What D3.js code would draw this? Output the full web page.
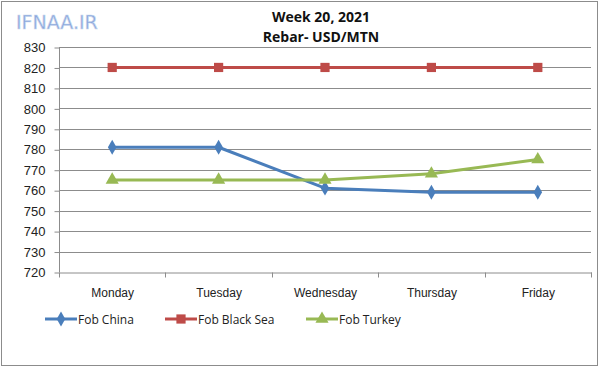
<!DOCTYPE html>
<html>
<head>
<meta charset="utf-8">
<script src="https://cdn.jsdelivr.net/npm/d3@7"></script>
<style>
  body { margin: 0; background: #fff; }
  svg { display: block; font-family: "Open Sans", "Noto Sans", sans-serif; }
</style>
</head>
<body>
<svg id="chart" width="600" height="368"></svg>
<script>
const days = ["Monday", "Tuesday", "Wednesday", "Thursday", "Friday"]
const fobChina = [781, 781, 761, 759, 759]
const fobBlackSea = [820, 820, 820, 820, 820]
const fobTurkey = [765, 765, 765, 768, 775]
const yTicks = [720, 730, 740, 750, 760, 770, 780, 790, 800, 810, 820, 830]

const series = [
  { name: "Fob China", values: fobChina, color: "#4a7ebb", marker: d3.symbolDiamond, size: 64 },
  { name: "Fob Black Sea", values: fobBlackSea, color: "#be4b48", marker: d3.symbolSquare, size: 85 },
  { name: "Fob Turkey", values: fobTurkey, color: "#98b954", marker: d3.symbolTriangle, size: 75 }
]

const svg = d3.select("#chart")
const plotLeft = 59, plotRight = 591, plotTop = 47, plotBottom = 272

// outer frame
svg.append("rect")
  .attr("x", 1.5).attr("y", 1.5).attr("width", 596).attr("height", 364)
  .attr("fill", "#fff").attr("stroke", "#8c8c8c")

// watermark
svg.append("text")
  .attr("x", 16).attr("y", 29)
  .attr("font-family", "Verdana, 'DejaVu Sans', sans-serif")
  .attr("font-size", 19)
  .attr("fill", "#8aa6dc")
  .attr("stroke", "#c9d8ee").attr("stroke-width", 0.6)
  .text("IFNAA.IR")

// title
const title = svg.append("g").attr("font-weight", "bold").attr("font-size", 14).attr("text-anchor", "middle").attr("fill", "#111")
title.append("text").attr("x", 321).attr("y", 22).text("Week 20, 2021")
title.append("text").attr("x", 321).attr("y", 42).text("Rebar- USD/MTN")

const x = d3.scaleBand().domain(days).range([plotLeft, plotRight])
const y = d3.scaleLinear().domain([720, 830]).range([plotBottom, plotTop])

// gridlines
svg.append("g")
  .selectAll("line")
  .data(yTicks.filter(d => d > 720))
  .enter()
  .append("line")
  .attr("x1", plotLeft).attr("x2", plotRight)
  .attr("y1", d => Math.round(y(d)) + 0.5).attr("y2", d => Math.round(y(d)) + 0.5)
  .attr("stroke", "#8c8c8c")

// y axis
const yAxis = svg.append("g")
  .attr("transform", `translate(${plotLeft + 0.5},0.5)`)
  .call(d3.axisLeft(y).tickValues(yTicks).tickSize(5).tickPadding(9))
yAxis.select(".domain").attr("stroke", "#8c8c8c").attr("d", `M0,${Math.round(y(830))}V${Math.round(y(720))}`)
yAxis.selectAll(".tick line").attr("stroke", "#8c8c8c")
yAxis.selectAll(".tick text").attr("font-size", 13).attr("fill", "#222")

// x axis
const xAxis = svg.append("g")
  .attr("transform", `translate(0.5,${Math.round(y(720)) + 0.5})`)
  .call(d3.axisBottom(x).tickSize(0).tickPadding(16))
xAxis.select(".domain").attr("stroke", "#8c8c8c")
xAxis.selectAll(".tick text").attr("font-size", 12).attr("fill", "#222")
xAxis.append("g")
  .selectAll("line")
  .data(d3.range(days.length + 1))
  .enter()
  .append("line")
  .attr("x1", i => Math.round(plotLeft + i * x.step()))
  .attr("x2", i => Math.round(plotLeft + i * x.step()))
  .attr("y1", 0).attr("y2", 5)
  .attr("stroke", "#8c8c8c")

// lines and markers
const cx = i => x(days[i]) + x.bandwidth() / 2
const line = d3.line().x((d, i) => cx(i)).y(d => y(d))

series.forEach(s => {
  svg.append("path")
    .datum(s.values)
    .attr("d", line)
    .attr("fill", "none")
    .attr("stroke", s.color)
    .attr("stroke-width", 3)
    .attr("stroke-linejoin", "round")
  svg.append("g")
    .selectAll("path")
    .data(s.values)
    .enter()
    .append("path")
    .attr("d", d3.symbol().type(s.marker).size(s.size))
    .attr("transform", (d, i) => `translate(${cx(i)},${y(d)})`)
    .attr("fill", s.color)
})

// legend
const legendX = [45, 165, 306]
const legend = svg.append("g")
series.forEach((s, i) => {
  const g = legend.append("g").attr("transform", `translate(${legendX[i]},${319})`)
  g.append("line").attr("x1", 0).attr("x2", 32).attr("stroke", s.color).attr("stroke-width", 3)
  g.append("path").attr("d", d3.symbol().type(s.marker).size(s.size)).attr("transform", "translate(16,0)").attr("fill", s.color)
  g.append("text").attr("x", 33).attr("y", 4.5).attr("font-size", 12).attr("fill", "#222").text(s.name)
})
</script>
</body>
</html>
